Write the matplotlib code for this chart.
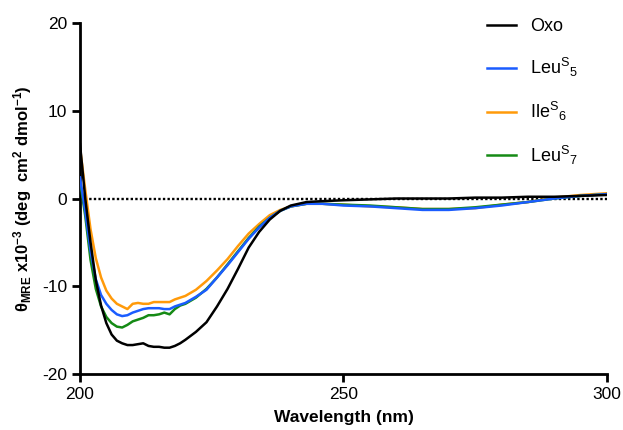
import numpy as np
import matplotlib
matplotlib.use("Agg")
import matplotlib.pyplot as plt

plt.rcParams["font.family"] = ["Liberation Sans", "DejaVu Sans"]
plt.rcParams["mathtext.fontset"] = "custom"
plt.rcParams["mathtext.rm"] = "Liberation Sans"
plt.rcParams["mathtext.it"] = "Liberation Sans"
plt.rcParams["mathtext.bf"] = "Liberation Sans:bold"
plt.rcParams["mathtext.default"] = "regular"
plt.rcParams["axes.unicode_minus"] = False

# wavelength (nm)
wavelength = [200, 201, 202, 203, 204, 205, 206, 207, 208, 209, 210, 211, 212,
              213, 214, 215, 216, 217, 218, 219, 220, 222, 224, 226, 228, 230,
              232, 234, 236, 238, 240, 243, 246, 250, 255, 260, 265, 270, 275,
              280, 285, 290, 295, 300]

oxo = [6.2, 0.0, -5.0, -9.3, -12.2, -14.2, -15.5, -16.2, -16.5, -16.7, -16.7,
       -16.6, -16.5, -16.8, -16.9, -16.9, -17.0, -17.0, -16.8, -16.5, -16.1,
       -15.2, -14.1, -12.3, -10.3, -8.0, -5.6, -3.8, -2.4, -1.4, -0.8, -0.4,
       -0.3, -0.2, -0.1, 0.0, 0.0, 0.0, 0.1, 0.1, 0.2, 0.2, 0.3, 0.4]

leu5 = [2.4, -1.5, -6.0, -9.2, -11.0, -12.0, -12.7, -13.2, -13.4, -13.3, -13.0,
        -12.8, -12.6, -12.5, -12.5, -12.5, -12.6, -12.6, -12.3, -12.1, -11.9,
        -11.2, -10.4, -9.0, -7.6, -6.1, -4.6, -3.3, -2.2, -1.4, -0.9, -0.6,
        -0.6, -0.8, -0.9, -1.1, -1.3, -1.3, -1.1, -0.8, -0.4, 0.0, 0.3, 0.5]

ile6 = [5.8, 1.0, -3.5, -6.8, -9.0, -10.5, -11.4, -12.0, -12.3, -12.6, -12.0,
        -11.9, -12.0, -12.0, -11.8, -11.8, -11.8, -11.8, -11.5, -11.3, -11.1,
        -10.4, -9.4, -8.2, -6.9, -5.4, -4.0, -2.9, -1.9, -1.3, -0.9, -0.6,
        -0.6, -0.7, -0.9, -1.0, -1.2, -1.2, -1.1, -0.7, -0.4, 0.1, 0.4, 0.6]

leu7 = [2.0, -2.0, -7.0, -10.3, -12.3, -13.5, -14.2, -14.6, -14.7, -14.4, -14.0,
        -13.8, -13.6, -13.3, -13.3, -13.2, -13.0, -13.2, -12.6, -12.2, -12.0,
        -11.3, -10.3, -9.0, -7.5, -6.0, -4.5, -3.2, -2.2, -1.4, -0.9, -0.6,
        -0.6, -0.7, -0.8, -1.0, -1.2, -1.2, -1.0, -0.7, -0.4, 0.0, 0.3, 0.5]

fig = plt.figure(figsize=(6.23, 4.30), dpi=100)
ax = fig.add_axes([0.1284, 0.1302, 0.8459, 0.8163])

ax.plot([200, 300], [0, 0], color="black", lw=1.7, ls=(0, (1, 0.95)), zorder=1)

l_ile6, = ax.plot(wavelength, ile6, color="#ff9a0a", lw=1.8, label="Ile$^{S}$$_{6}$", zorder=2)
l_leu7, = ax.plot(wavelength, leu7, color="#158a15", lw=1.8, label="Leu$^{S}$$_{7}$", zorder=3)
l_leu5, = ax.plot(wavelength, leu5, color="#1a5cff", lw=1.8, label="Leu$^{S}$$_{5}$", zorder=4)
l_oxo, = ax.plot(wavelength, oxo, color="black", lw=1.8, label="Oxo", zorder=5)

ax.set_xlim(200, 300)
ax.set_ylim(-20, 20)
ax.set_xticks([200, 250, 300])
ax.set_yticks([-20, -10, 0, 10, 20])

for side in ["top", "right"]:
    ax.spines[side].set_visible(False)
for side in ["left", "bottom"]:
    ax.spines[side].set_linewidth(2)
ax.tick_params(width=2, length=6, labelsize=12.5, pad=3)

ax.set_xlabel("Wavelength (nm)", fontsize=12.5, fontweight="bold", labelpad=6)
ax.set_ylabel(r"θ$_{\mathbf{MRE}}$ x10$^{\mathbf{-3}}$ (deg  cm$^{\mathbf{2}}$ dmol$^{\mathbf{-1}}$)",
              fontsize=12, fontweight="bold", labelpad=6)

ax.legend(handles=[l_oxo, l_leu5, l_ile6, l_leu7], frameon=False, fontsize=13,
          loc="upper right", bbox_to_anchor=(0.975, 1.06), labelspacing=1.15,
          handlelength=1.6, handletextpad=0.75)

fig.savefig("out.png", dpi=100)
